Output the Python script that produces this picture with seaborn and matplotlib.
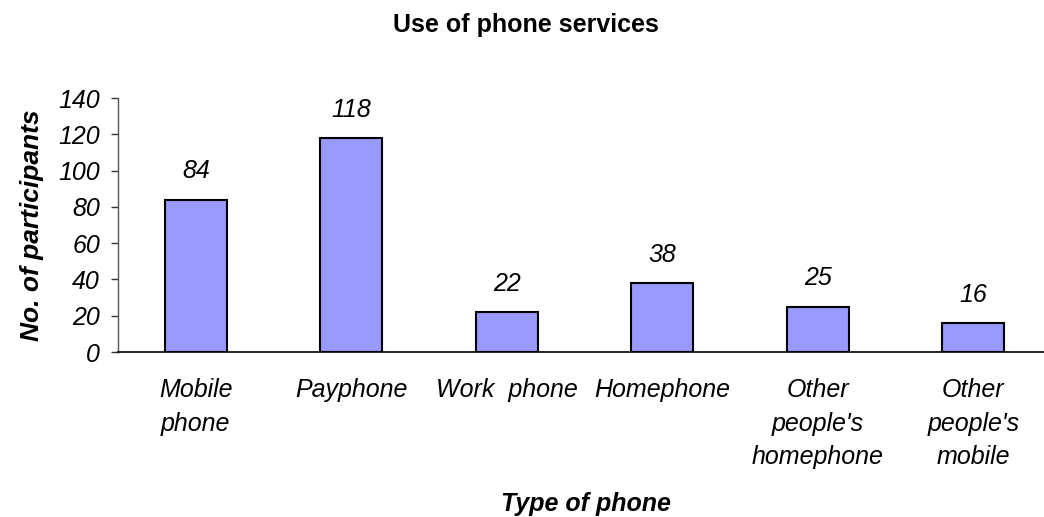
import matplotlib
matplotlib.use("Agg")
import matplotlib.pyplot as plt
import seaborn as sns
import pandas as pd

categories = ["Mobile\nphone", "Payphone", "Work  phone", "Homephone",
              "Other\npeople's\nhomephone", "Other\npeople's\nmobile"]
participants = [84, 118, 22, 38, 25, 16]
y_ticks = [0, 20, 40, 60, 80, 100, 120, 140]

sns.set_style("white")
plt.rcParams["font.family"] = ["Liberation Sans", "DejaVu Sans"]
plt.rcParams["text.color"] = "black"
plt.rcParams["xtick.color"] = "black"
plt.rcParams["ytick.color"] = "black"
plt.rcParams["axes.labelcolor"] = "black"

df = pd.DataFrame({"phone": categories, "count": participants})

fig = plt.figure(figsize=(10.44, 5.17), dpi=100)
ax = fig.add_axes([118 / 1044, 1 - 352 / 517, (1051 - 118) / 1044, (352 - 98) / 517])

sns.barplot(data=df, x="phone", y="count", ax=ax, color="#9999FF",
            saturation=1, width=0.4, edgecolor="black", linewidth=1.5)

for i, v in enumerate(participants):
    ax.text(i, v + 9, str(v), ha="center", va="bottom", fontsize=18, fontstyle="italic")

ax.set_xlim(-0.5, 5.5)
ax.set_ylim(0, 140)
ax.set_yticks(y_ticks)
ax.set_yticklabels([str(t) for t in y_ticks], fontsize=18, fontstyle="italic")

ax.set_xticks([i + 0.5 for i in range(len(categories) - 1)], minor=False)
ax.set_xticklabels([])
ax.set_xticks(range(len(categories)), minor=True)
ax.set_xticklabels(categories, minor=True, fontsize=18, fontstyle="italic",
                   va="top", linespacing=1.5)
ax.tick_params(axis="x", which="minor", length=0, pad=19)
ax.tick_params(axis="x", which="major", length=6, width=1, color="#333333", direction="out")
ax.tick_params(axis="y", length=5, width=1, color="#333333", direction="out", left=True, pad=8)

for s in ["top", "right"]:
    ax.spines[s].set_visible(False)
ax.spines["left"].set_color("#555555")
ax.spines["bottom"].set_color("black")
ax.spines["left"].set_linewidth(1)
ax.spines["bottom"].set_linewidth(1.2)

ax.set_xlabel("")
ax.set_ylabel("No. of participants", fontsize=19, fontweight="bold", fontstyle="italic")
ax.yaxis.set_label_coords(-74 / 933, 0.5)

fig.text(526 / 1044, 1 - 25 / 517, "Use of phone services", ha="center", va="center",
         fontsize=18, fontweight="bold")
fig.text(586 / 1044, 1 - 504 / 517, "Type of phone", ha="center", va="center",
         fontsize=18, fontweight="bold", fontstyle="italic")

fig.savefig("out.png", dpi=100)
